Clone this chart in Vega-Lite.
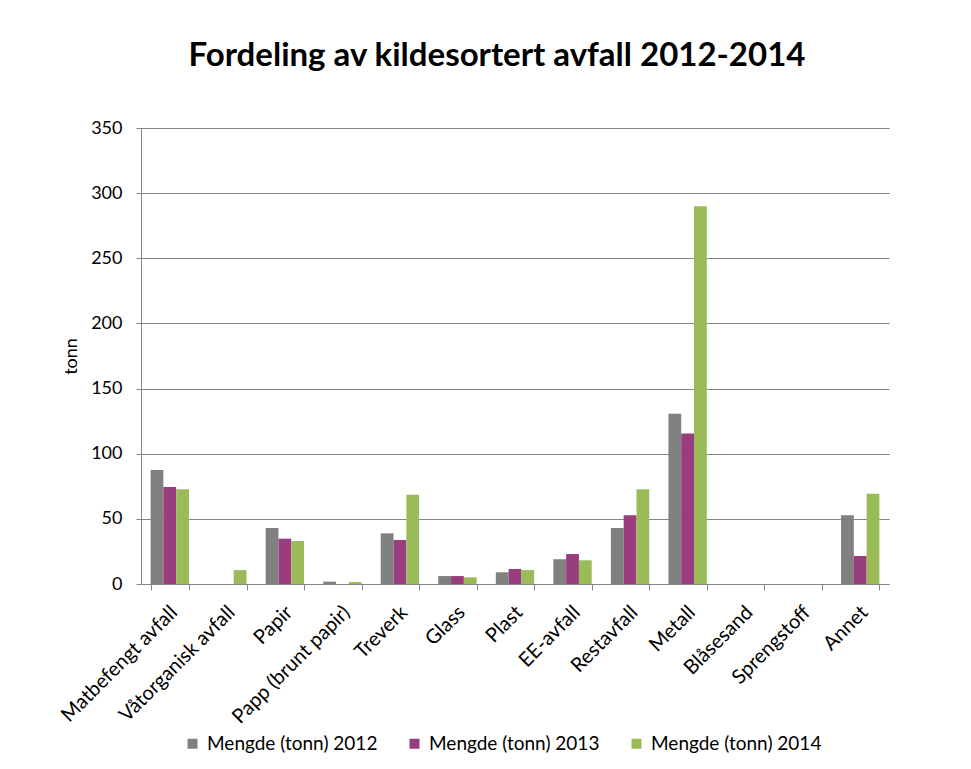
{
  "$schema": "https://vega.github.io/schema/vega-lite/v6.json",
  "width": 748,
  "height": 456,
  "autosize": "none",
  "padding": {"left": 141, "top": 128, "right": 82, "bottom": 185},
  "background": "white",
  "title": {
    "text": "Fordeling av kildesortert avfall 2012-2014",
    "font": "Lato",
    "fontSize": 33,
    "fontWeight": "bold",
    "color": "#000000",
    "anchor": "middle",
    "dx": -18,
    "offset": 46
  },
  "data": {
    "values": [
      {"kategori": "Matbefengt avfall", "serie": "Mengde (tonn) 2012", "tonn": 87.5},
      {"kategori": "Matbefengt avfall", "serie": "Mengde (tonn) 2013", "tonn": 74.4},
      {"kategori": "Matbefengt avfall", "serie": "Mengde (tonn) 2014", "tonn": 72.7},
      {"kategori": "Våtorganisk avfall", "serie": "Mengde (tonn) 2012", "tonn": 0},
      {"kategori": "Våtorganisk avfall", "serie": "Mengde (tonn) 2013", "tonn": 0},
      {"kategori": "Våtorganisk avfall", "serie": "Mengde (tonn) 2014", "tonn": 10.7},
      {"kategori": "Papir", "serie": "Mengde (tonn) 2012", "tonn": 43},
      {"kategori": "Papir", "serie": "Mengde (tonn) 2013", "tonn": 34.8},
      {"kategori": "Papir", "serie": "Mengde (tonn) 2014", "tonn": 33},
      {"kategori": "Papp (brunt papir)", "serie": "Mengde (tonn) 2012", "tonn": 1.8},
      {"kategori": "Papp (brunt papir)", "serie": "Mengde (tonn) 2013", "tonn": 0},
      {"kategori": "Papp (brunt papir)", "serie": "Mengde (tonn) 2014", "tonn": 1.5},
      {"kategori": "Treverk", "serie": "Mengde (tonn) 2012", "tonn": 38.9},
      {"kategori": "Treverk", "serie": "Mengde (tonn) 2013", "tonn": 33.8},
      {"kategori": "Treverk", "serie": "Mengde (tonn) 2014", "tonn": 68.5},
      {"kategori": "Glass", "serie": "Mengde (tonn) 2012", "tonn": 6.1},
      {"kategori": "Glass", "serie": "Mengde (tonn) 2013", "tonn": 6.1},
      {"kategori": "Glass", "serie": "Mengde (tonn) 2014", "tonn": 5.1},
      {"kategori": "Plast", "serie": "Mengde (tonn) 2012", "tonn": 9},
      {"kategori": "Plast", "serie": "Mengde (tonn) 2013", "tonn": 11.5},
      {"kategori": "Plast", "serie": "Mengde (tonn) 2014", "tonn": 10.7},
      {"kategori": "EE-avfall", "serie": "Mengde (tonn) 2012", "tonn": 19},
      {"kategori": "EE-avfall", "serie": "Mengde (tonn) 2013", "tonn": 23},
      {"kategori": "EE-avfall", "serie": "Mengde (tonn) 2014", "tonn": 18.2},
      {"kategori": "Restavfall", "serie": "Mengde (tonn) 2012", "tonn": 43},
      {"kategori": "Restavfall", "serie": "Mengde (tonn) 2013", "tonn": 52.7},
      {"kategori": "Restavfall", "serie": "Mengde (tonn) 2014", "tonn": 72.7},
      {"kategori": "Metall", "serie": "Mengde (tonn) 2012", "tonn": 130.7},
      {"kategori": "Metall", "serie": "Mengde (tonn) 2013", "tonn": 115.6},
      {"kategori": "Metall", "serie": "Mengde (tonn) 2014", "tonn": 290},
      {"kategori": "Blåsesand", "serie": "Mengde (tonn) 2012", "tonn": 0},
      {"kategori": "Blåsesand", "serie": "Mengde (tonn) 2013", "tonn": 0},
      {"kategori": "Blåsesand", "serie": "Mengde (tonn) 2014", "tonn": 0},
      {"kategori": "Sprengstoff", "serie": "Mengde (tonn) 2012", "tonn": 0},
      {"kategori": "Sprengstoff", "serie": "Mengde (tonn) 2013", "tonn": 0},
      {"kategori": "Sprengstoff", "serie": "Mengde (tonn) 2014", "tonn": 0},
      {"kategori": "Annet", "serie": "Mengde (tonn) 2012", "tonn": 52.7},
      {"kategori": "Annet", "serie": "Mengde (tonn) 2013", "tonn": 21.5},
      {"kategori": "Annet", "serie": "Mengde (tonn) 2014", "tonn": 69.3}
    ]
  },
  "mark": {"type": "bar"},
  "encoding": {
    "x": {
      "field": "kategori",
      "type": "nominal",
      "sort": null,
      "title": null,
      "scale": {"paddingInner": 0.333, "paddingOuter": 0.1667},
      "axis": {
        "labelAngle": -45,
        "labelAlign": "right",
        "labelBaseline": "middle",
        "labelFont": "Lato",
        "labelFontSize": 20,
        "labelColor": "#000000",
        "labelPadding": 19,
        "labelOffset": 4,
        "labelLimit": 300,
        "tickBand": "extent",
        "tickSize": 6,
        "tickColor": "#868686",
        "domainColor": "#868686",
        "grid": false
      }
    },
    "xOffset": {"field": "serie", "type": "nominal", "scale": {"paddingInner": 0, "paddingOuter": 0}},
    "y": {
      "field": "tonn",
      "type": "quantitative",
      "title": "tonn",
      "scale": {"domain": [0, 350], "nice": false},
      "axis": {
        "values": [0, 50, 100, 150, 200, 250, 300, 350],
        "labelFont": "Lato",
        "labelFontSize": 18,
        "labelColor": "#000000",
        "labelPadding": 14,
        "tickSize": 5,
        "tickColor": "#868686",
        "domainColor": "#868686",
        "gridColor": "#868686",
        "gridWidth": 1,
        "titleFont": "Lato",
        "titleFontSize": 18,
        "titleFontWeight": "normal",
        "titleColor": "#000000",
        "titleX": -70,
        "titleY": 228,
        "titleAngle": -90,
        "titleAlign": "center",
        "titleBaseline": "middle"
      }
    },
    "color": {
      "field": "serie",
      "type": "nominal",
      "scale": {
        "domain": ["Mengde (tonn) 2012", "Mengde (tonn) 2013", "Mengde (tonn) 2014"],
        "range": ["#808080", "#983d7d", "#9bbb59"]
      },
      "legend": {
        "title": null,
        "orient": "none",
        "legendX": 42,
        "legendY": 606,
        "direction": "horizontal",
        "columns": 3,
        "columnPadding": 27,
        "symbolType": "square",
        "symbolSize": 100,
        "symbolStrokeWidth": 0,
        "labelFont": "Lato",
        "labelFontSize": 19,
        "labelLimit": 400,
        "labelColor": "#000000",
        "labelOffset": 5
      }
    }
  },
  "config": {
    "view": {"stroke": null},
    "axis": {"domainWidth": 1, "tickWidth": 1}
  }
}
